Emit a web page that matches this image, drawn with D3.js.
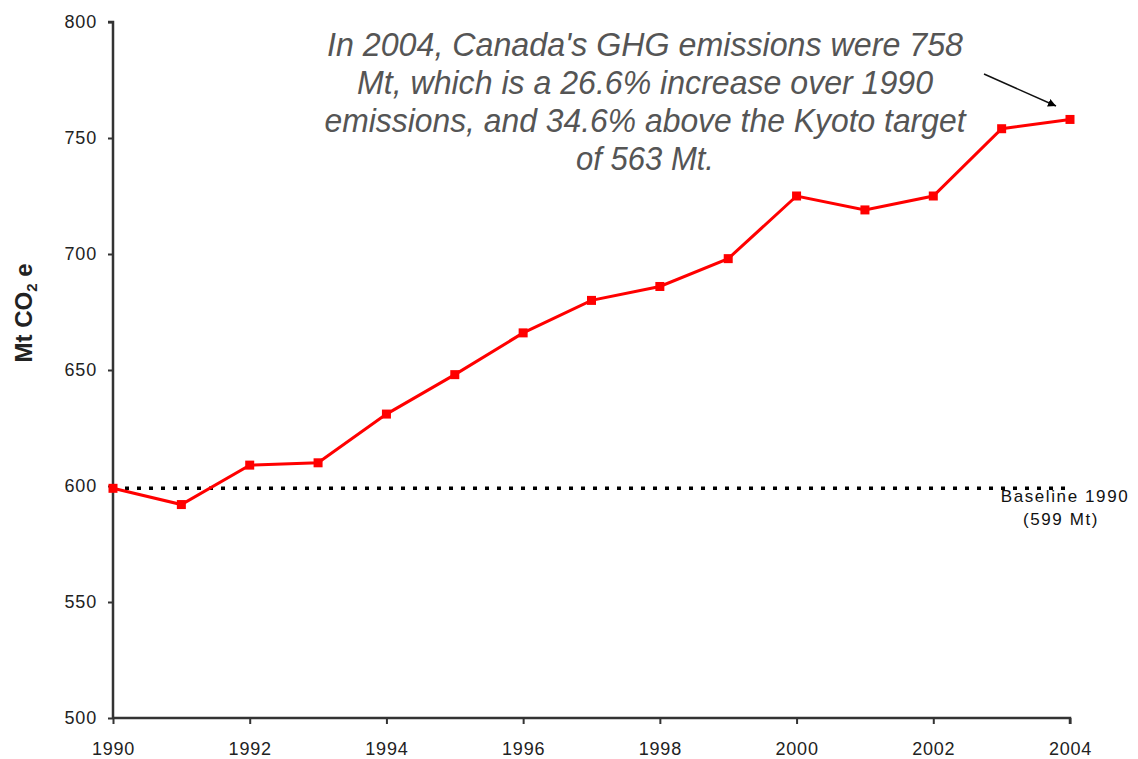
<!DOCTYPE html>
<html>
<head>
<meta charset="utf-8">
<script src="https://cdn.jsdelivr.net/npm/d3@7"></script>
<style>
  body { margin: 0; background: #fff; }
  svg { display: block; font-family: "Liberation Sans", Arial, sans-serif; }
</style>
</head>
<body>
<div id="chart"></div>
<script>
// Canada GHG emissions, Mt CO2 e
const years = [1990, 1991, 1992, 1993, 1994, 1995, 1996, 1997, 1998, 1999, 2000, 2001, 2002, 2003, 2004];
const emissions = [599, 592, 609, 610, 631, 648, 666, 680, 686, 698, 725, 719, 725, 754, 758];
const baseline = 599;
const yTicks = [500, 550, 600, 650, 700, 750, 800];
const xTicks = [1990, 1992, 1994, 1996, 1998, 2000, 2002, 2004];
const noteLines = [
  "In 2004, Canada's GHG emissions were 758",
  "Mt, which is a 26.6% increase over 1990",
  "emissions, and 34.6% above the Kyoto target",
  "of 563 Mt."
];
// widths of the note lines as they appear (condensed italic)
const noteWidths = [636, 576, 641, 138];

const width = 1138;
const height = 759;
const margin = { top: 22, right: 68, bottom: 41, left: 113 };

const svg = d3.select('#chart')
  .append('svg')
  .attr('width', width)
  .attr('height', height);

const x = d3.scaleLinear()
  .domain([1990, 2004])
  .range([margin.left, width - margin.right]);
const y = d3.scaleLinear()
  .domain([500, 800])
  .range([height - margin.bottom, margin.top]);

// baseline dotted line
svg.append('line')
  .attr('x1', x(1990))
  .attr('x2', x(2004))
  .attr('y1', y(baseline))
  .attr('y2', y(baseline))
  .attr('stroke', '#000')
  .attr('stroke-width', 3.5)
  .attr('stroke-dasharray', '4 8');

svg.append('text')
  .attr('x', x(2004) - 5)
  .attr('y', y(baseline) + 14)
  .attr('text-anchor', 'middle')
  .attr('font-size', 17)
  .attr('letter-spacing', 1.6)
  .attr('fill', '#111')
  .text('Baseline 1990');
svg.append('text')
  .attr('x', x(2004) - 9)
  .attr('y', y(baseline) + 37)
  .attr('text-anchor', 'middle')
  .attr('font-size', 17)
  .attr('letter-spacing', 1.6)
  .attr('fill', '#111')
  .text('(599 Mt)');

// axes
const yAxis = d3.axisLeft(y).tickValues(yTicks).tickSize(5).tickPadding(11);
const xAxis = d3.axisBottom(x).tickValues(xTicks).tickFormat(d3.format('d')).tickSize(6).tickPadding(18);

const gy = svg.append('g')
  .attr('transform', `translate(${margin.left},0)`)
  .call(yAxis);
const gx = svg.append('g')
  .attr('transform', `translate(0,${height - margin.bottom})`)
  .call(xAxis);

[gx, gy].forEach(g => {
  g.selectAll('path').attr('stroke', '#333').attr('stroke-width', 2.5);
  g.selectAll('line').attr('stroke', '#333').attr('stroke-width', 2);
  g.selectAll('text').attr('font-size', 18).attr('fill', '#222')
    .attr('letter-spacing', 0.8)
    .attr('font-family', '"Liberation Sans", Arial, sans-serif');
});
gy.select('.domain').attr('d', `M-5,${y(800)}H0V${y(500)}`);
gx.select('.domain').attr('d', `M${x(1990)},0H${x(2004)}V6`);

// y label
const yl = svg.append('text')
  .attr('transform', `translate(32,313) rotate(-90)`)
  .attr('text-anchor', 'middle')
  .attr('font-size', 24)
  .attr('font-weight', 'bold')
  .attr('fill', '#222');
yl.append('tspan').text('Mt CO');
yl.append('tspan').attr('font-size', 15).attr('dy', 5).text('2');
yl.append('tspan').attr('dy', -5).text(' e');

// series line
const line = d3.line()
  .x((d, i) => x(years[i]))
  .y(d => y(d));

svg.append('path')
  .datum(emissions)
  .attr('d', line)
  .attr('fill', 'none')
  .attr('stroke', '#ff0000')
  .attr('stroke-width', 3);

svg.append('g')
  .selectAll('rect')
  .data(emissions)
  .join('rect')
  .attr('x', (d, i) => x(years[i]) - 4.5)
  .attr('y', d => y(d) - 4.5)
  .attr('width', 9)
  .attr('height', 9)
  .attr('fill', '#ff0000');

// annotation
const note = svg.append('g')
  .attr('font-size', 33)
  .attr('font-style', 'italic')
  .attr('fill', '#555');
note.selectAll('text')
  .data(noteLines)
  .join('text')
  .attr('x', (d, i) => 645 - noteWidths[i] / 2)
  .attr('y', (d, i) => 56 + i * 38)
  .attr('textLength', (d, i) => noteWidths[i])
  .attr('lengthAdjust', 'spacingAndGlyphs')
  .text(d => d);

// arrow
svg.append('defs').append('marker')
  .attr('id', 'arrow')
  .attr('viewBox', '0 0 10 10')
  .attr('refX', 10)
  .attr('refY', 5)
  .attr('markerWidth', 8)
  .attr('markerHeight', 8)
  .attr('markerUnits', 'userSpaceOnUse')
  .attr('orient', 'auto')
  .append('path')
  .attr('d', 'M0,0L10,5L0,10z')
  .attr('fill', '#000');
svg.append('line')
  .attr('x1', 984)
  .attr('y1', 74)
  .attr('x2', 1056)
  .attr('y2', 106)
  .attr('stroke', '#111')
  .attr('stroke-width', 1.5)
  .attr('marker-end', 'url(#arrow)');
</script>
</body>
</html>
